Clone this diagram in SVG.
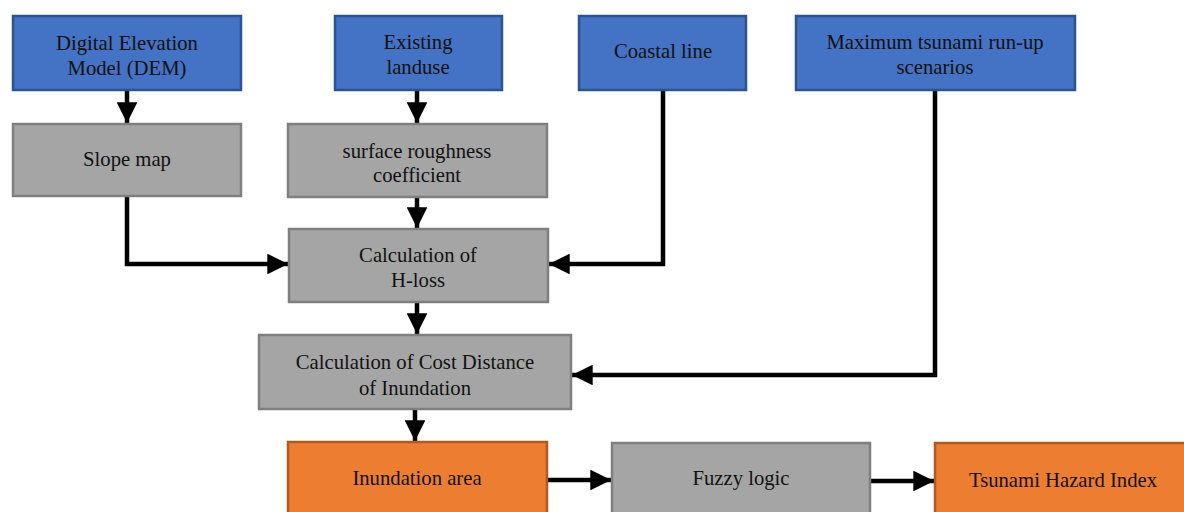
<svg xmlns="http://www.w3.org/2000/svg" width="1184" height="512" viewBox="0 0 1184 512">
<defs>
<style>
.blue{fill:#4472C4;stroke:#2F528F;stroke-width:2.5}
.gray{fill:#A5A5A5;stroke:#7F7F7F;stroke-width:2.5}
.orange{fill:#ED7D31;stroke:#AE5A21;stroke-width:2.5}
.t{font-family:'Liberation Serif','DejaVu Serif',serif;font-size:20.7px;fill:#111;text-anchor:middle}
.c{fill:none;stroke:#000;stroke-width:4.5}
</style>
<marker id="ah" viewBox="0 0 10 10" refX="10" refY="5" markerWidth="4.6" markerHeight="4.6" markerUnits="strokeWidth" orient="auto">
<path d="M0,0 L10,5 L0,10 Z" fill="#000"/>
</marker>
</defs>
<rect width="1184" height="512" fill="#fff"/>
<g id="connectors">
<path class="c" d="M127,91 V123" marker-end="url(#ah)"/>
<path class="c" d="M417,91 V123" marker-end="url(#ah)"/>
<path class="c" d="M417,198 V228" marker-end="url(#ah)"/>
<path class="c" d="M127,196 V264 H288" marker-end="url(#ah)"/>
<path class="c" d="M663,90 V264 H549" marker-end="url(#ah)"/>
<path class="c" d="M935,90 V375 H572" marker-end="url(#ah)"/>
<path class="c" d="M417,302 V334" marker-end="url(#ah)"/>
<path class="c" d="M415,410 V441" marker-end="url(#ah)"/>
<path class="c" d="M548,480 H611" marker-end="url(#ah)"/>
<path class="c" d="M871,481 H934" marker-end="url(#ah)"/>
</g>
<g id="dem"><rect class="blue" x="13" y="16" width="228" height="74"/><text class="t" x="127" y="50">Digital Elevation</text><text class="t" x="127" y="75">Model (DEM)</text></g>
<g id="landuse"><rect class="blue" x="335" y="16" width="167" height="74"/><text class="t" x="418" y="49">Existing</text><text class="t" x="418" y="74">landuse</text></g>
<g id="coastal"><rect class="blue" x="579" y="16" width="167" height="74"/><text class="t" x="663" y="58">Coastal line</text></g>
<g id="runup"><rect class="blue" x="796" y="16" width="279" height="74"/><text class="t" x="935" y="49">Maximum tsunami run-up</text><text class="t" x="935" y="74">scenarios</text></g>
<g id="slope"><rect class="gray" x="13" y="124" width="228" height="72"/><text class="t" x="127" y="166">Slope map</text></g>
<g id="roughness"><rect class="gray" x="288" y="124" width="259" height="73"/><text class="t" x="417" y="158">surface roughness</text><text class="t" x="417" y="182">coefficient</text></g>
<g id="hloss"><rect class="gray" x="289" y="229" width="259" height="73"/><text class="t" x="418" y="262">Calculation of</text><text class="t" x="418" y="287">H-loss</text></g>
<g id="cost"><rect class="gray" x="259" y="335" width="312" height="74"/><text class="t" x="415" y="369">Calculation of Cost Distance</text><text class="t" x="415" y="395">of Inundation</text></g>
<g id="inundation"><rect class="orange" x="288" y="442" width="259" height="80"/><text class="t" x="417" y="485">Inundation area</text></g>
<g id="fuzzy"><rect class="gray" x="612" y="443" width="258" height="80"/><text class="t" x="741" y="485">Fuzzy logic</text></g>
<g id="thi"><rect class="orange" x="935" y="443" width="260" height="80"/><text class="t" x="1063" y="487">Tsunami Hazard Index</text></g>
</svg>
